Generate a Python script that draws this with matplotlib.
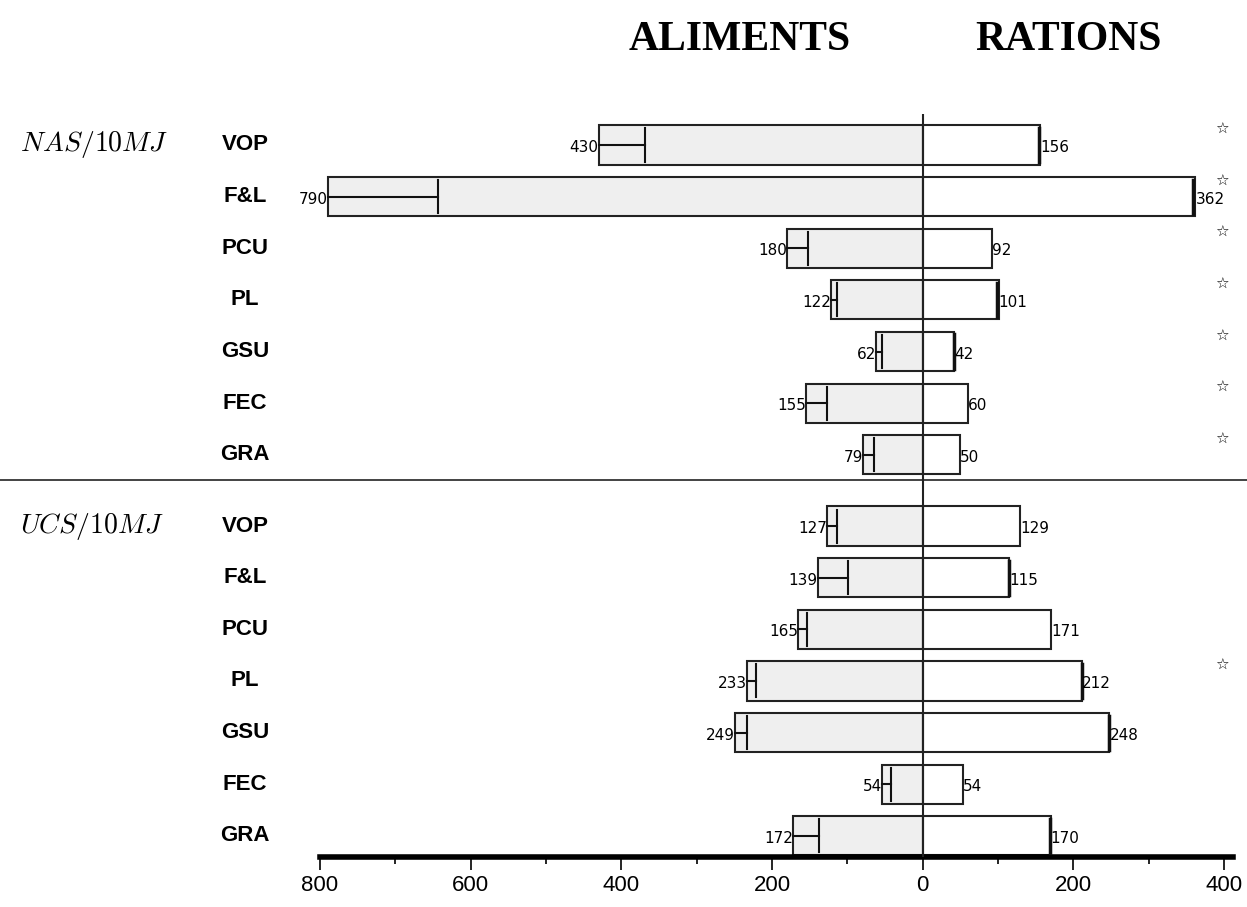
import matplotlib.pyplot as plt
import numpy as np

# categories (top to bottom in each block)
categories = ["VOP", "F&L", "PCU", "PL", "GSU", "FEC", "GRA"]
groups = ["NAS/10MJ", "UCS/10MJ"]

# ALIMENTS (left side): bar value and inner end of the interval line
nas_aliments = [430, 790, 180, 122, 62, 155, 79]
nas_aliments_low = [368, 643, 152, 114, 54, 127, 64]
ucs_aliments = [127, 139, 165, 233, 249, 54, 172]
ucs_aliments_low = [114, 99, 153, 221, 233, 42, 137]

# RATIONS (right side): bar value and inner end of the interval line
nas_rations = [156, 362, 92, 101, 42, 60, 50]
nas_rations_low = [154, 359, 92, 99, 41, 60, 50]
ucs_rations = [129, 115, 171, 212, 248, 54, 170]
ucs_rations_low = [129, 114, 171, 211, 247, 54, 169]

# significance stars
nas_star = [True, True, True, True, True, True, True]
ucs_star = [False, False, False, True, False, False, False]

x_ticks = [-800, -600, -400, -200, 0, 200, 400]
x_tick_labels = ["800", "600", "400", "200", "0", "200", "400"]

plt.rcParams['mathtext.fontset'] = 'cm'

fig = plt.figure(figsize=(12.47, 9.07), dpi=100)
ax = fig.add_axes([320 / 1247, 50 / 907, 913 / 1247, 743 / 907])

row_step = 1.0
group_offset = 7.38
bar_h = 0.76

blocks = [
    (groups[0], 0.0, nas_aliments, nas_aliments_low, nas_rations, nas_rations_low, nas_star),
    (groups[1], group_offset, ucs_aliments, ucs_aliments_low, ucs_rations, ucs_rations_low, ucs_star),
]

ytrans = ax.get_yaxis_transform()

for name, off, ali, ali_low, rat, rat_low, stars in blocks:
    y = off + np.arange(len(categories)) * row_step
    ali = np.array(ali)
    rat = np.array(rat)

    # left bars (grey) and right bars (white)
    ax.barh(y, -ali, height=bar_h, color="#efefef", edgecolor="#222222", linewidth=1.5, zorder=2)
    ax.barh(y, rat, height=bar_h, color="white", edgecolor="#222222", linewidth=1.5, zorder=2)

    for i in range(len(categories)):
        # interval line on the left side
        ax.plot([-ali[i], -ali_low[i]], [y[i], y[i]], color="#111111", lw=1.5, zorder=3)
        ax.plot([-ali_low[i], -ali_low[i]], [y[i] - 0.32, y[i] + 0.32], color="#111111", lw=1.5, zorder=3)
        # interval tick on the right side
        if rat_low[i] != rat[i]:
            ax.plot([rat_low[i], rat_low[i]], [y[i] - 0.33, y[i] + 0.33], color="#111111", lw=2.5, zorder=3)

        # value labels
        ax.text(-ali[i], y[i] + 0.05, str(ali[i]), ha="right", va="center", fontsize=11,
                family="DejaVu Sans", zorder=4)
        ax.text(rat[i], y[i] + 0.05, str(rat[i]), ha="left", va="center", fontsize=11,
                family="DejaVu Sans", zorder=4)

        # category label
        ax.text(-0.082, y[i], categories[i], transform=ytrans, ha="center", va="center",
                fontsize=16, fontweight="bold", family="Liberation Sans")

        if stars[i]:
            ax.text(397, y[i] - 0.3, "\u2606", ha="center", va="center", fontsize=11,
                    fontweight="bold", family="DejaVu Sans")

    # group label
    ax.text(-0.3286, y[0], "$" + name + "$", transform=ytrans, ha="left", va="center",
            fontsize=20)

# separator between the two blocks, across the whole figure
sep_y = 6.48
ax.plot([-0.36, 1.02], [sep_y, sep_y], transform=ytrans, color="#222222", lw=1.2, clip_on=False)

# zero line
ax.axvline(0, color="#222222", lw=1.5, zorder=3)

ax.set_xlim(-800, 412)
ax.set_ylim(group_offset + 6 + 0.41, -0.6)

for side in ["top", "right", "left"]:
    ax.spines[side].set_visible(False)
ax.spines["bottom"].set_linewidth(4)
ax.set_yticks([])
ax.set_xticks(x_ticks)
ax.set_xticklabels(x_tick_labels, family="Liberation Sans", fontsize=16)
ax.set_xticks([-700, -500, -300, -100, 100, 300], minor=True)
ax.tick_params(axis="x", which="major", length=9, width=1.2, direction="out", pad=4)
ax.tick_params(axis="x", which="minor", length=5, width=1.2, direction="out")

# column titles
fig.text(740 / 1247, 1 - 40 / 907, "ALIMENTS", ha="center", va="center", fontsize=30,
         fontweight="bold", family="Liberation Serif")
fig.text(1068 / 1247, 1 - 40 / 907, "RATIONS", ha="center", va="center", fontsize=30,
         fontweight="bold", family="Liberation Serif")

plt.savefig("out.png", dpi=100)
plt.close(fig)
